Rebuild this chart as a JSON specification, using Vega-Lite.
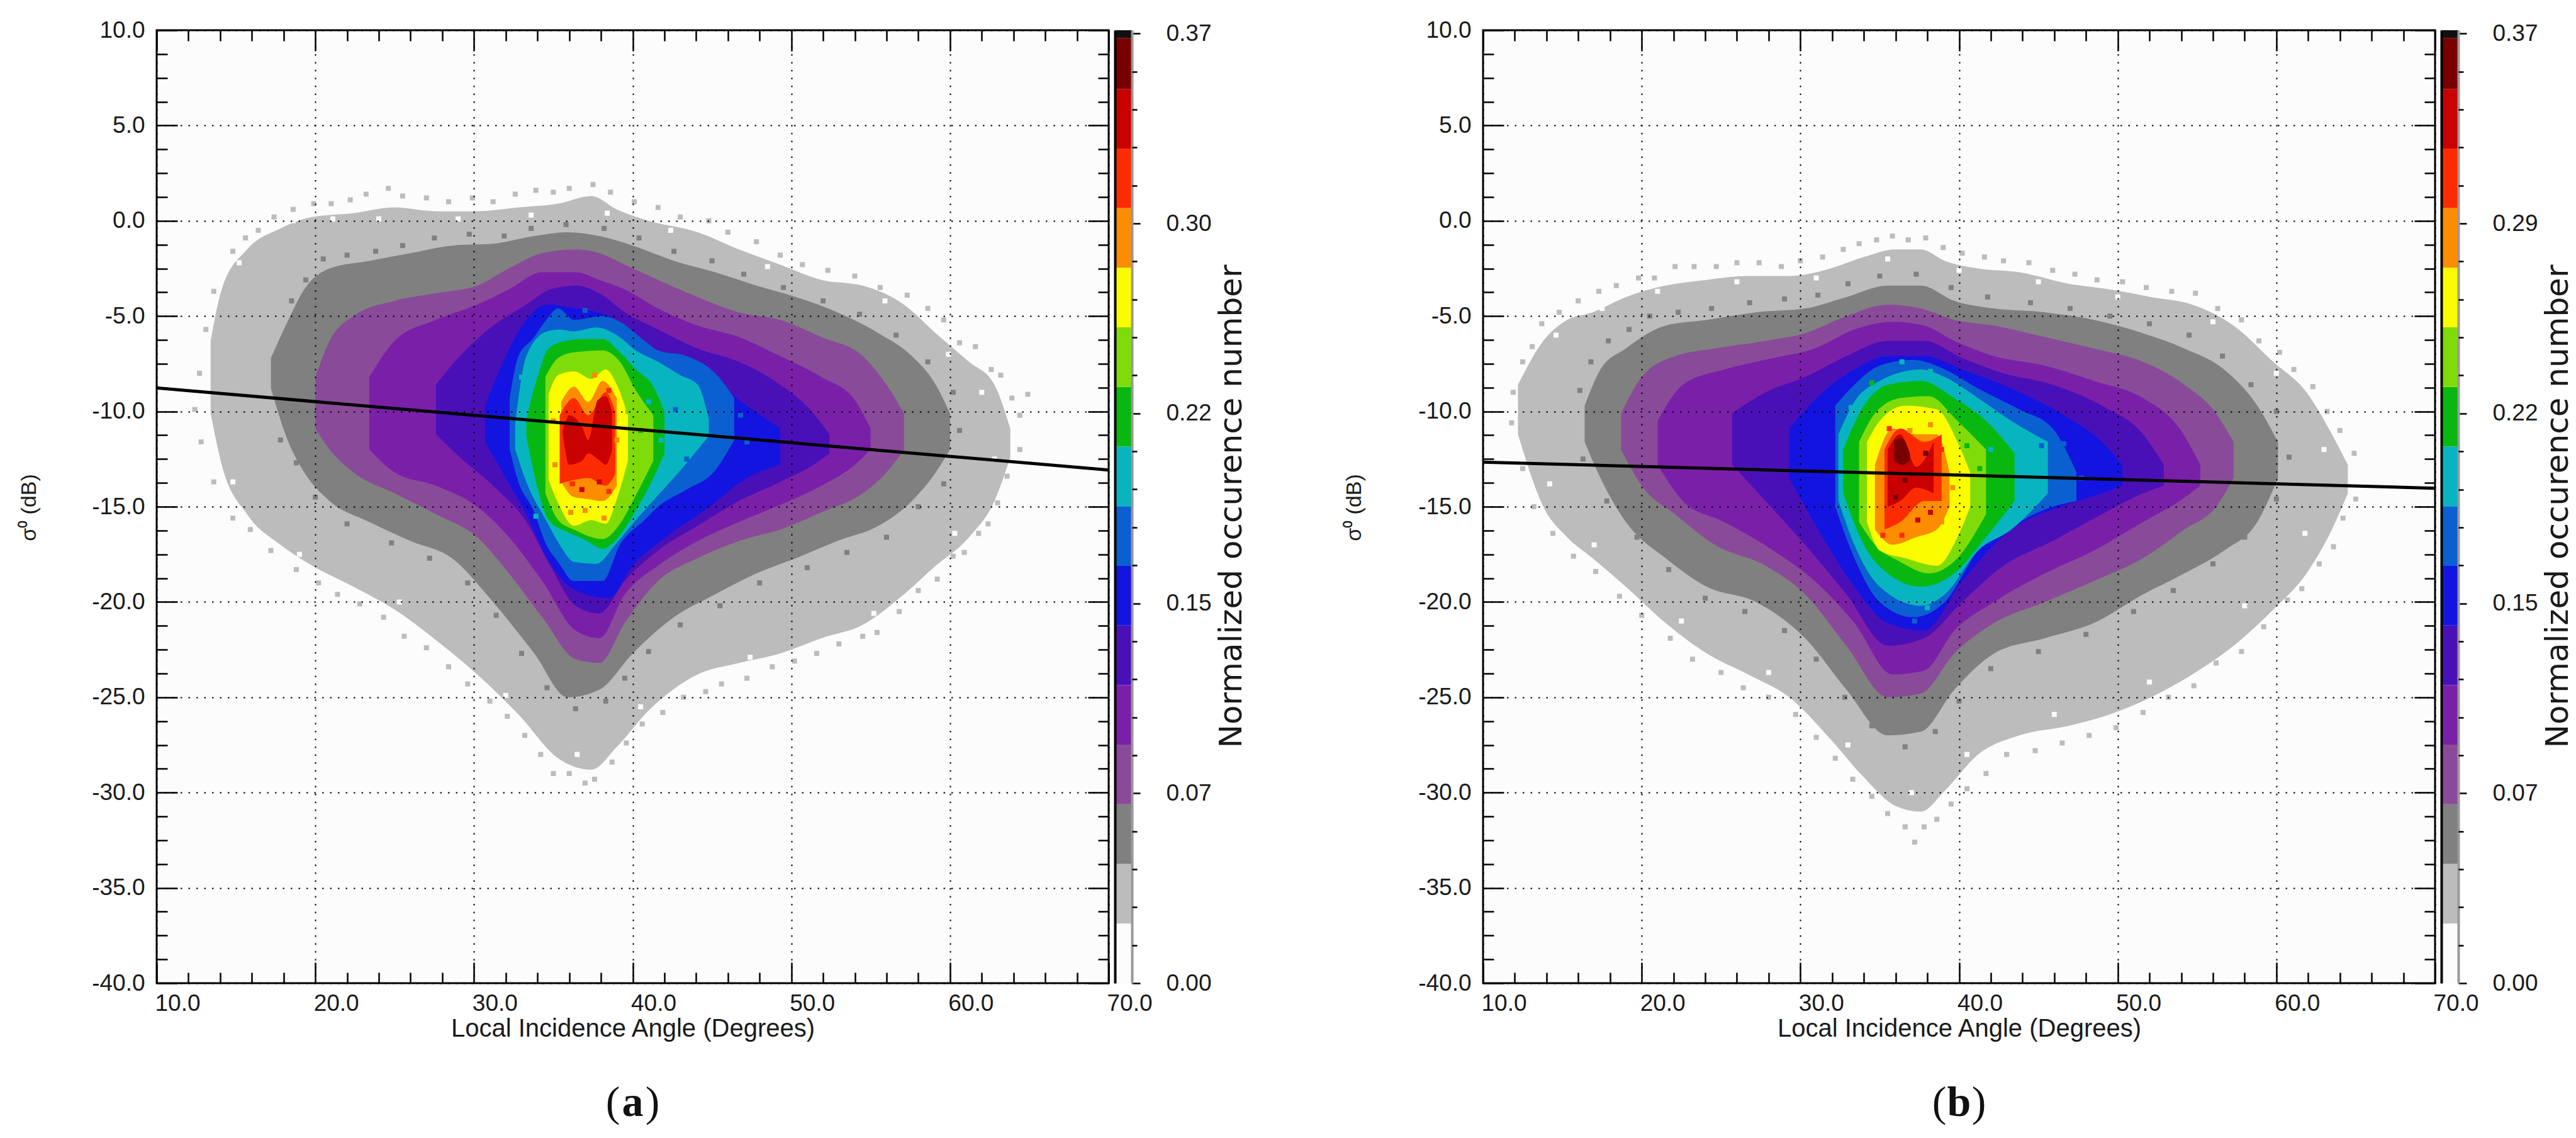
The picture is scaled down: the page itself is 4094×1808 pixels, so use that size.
{"$schema":"https://vega.github.io/schema/vega-lite/v6.json","autosize":{"type":"none"},"padding":{"left":249,"top":48,"right":3845,"bottom":246},"background":"white","spacing":10,"bounds":"flush",
"config":{"view":{"stroke":null},"axis":{"labelFont":"Liberation Sans","titleFont":"Liberation Sans","labelFontSize":37,"titleFontSize":40,"labelColor":"#1a1a1a","titleColor":"#1a1a1a","titleFontWeight":"normal","tickColor":"#000","tickWidth":2.5,"domain":false,"grid":false,"labelOverlap":false,"labelBound":false,"labelFlush":false}},
"datasets":{
"binsA":[{"level":0,"lo":0,"hi":0.02323},{"level":1,"lo":0.02323,"hi":0.04646},{"level":2,"lo":0.04646,"hi":0.06969},{"level":3,"lo":0.06969,"hi":0.09292},{"level":4,"lo":0.09292,"hi":0.11615},{"level":5,"lo":0.11615,"hi":0.13938},{"level":6,"lo":0.13938,"hi":0.16261},{"level":7,"lo":0.16261,"hi":0.18584},{"level":8,"lo":0.18584,"hi":0.20907},{"level":9,"lo":0.20907,"hi":0.2323},{"level":10,"lo":0.2323,"hi":0.25553},{"level":11,"lo":0.25553,"hi":0.27876},{"level":12,"lo":0.27876,"hi":0.30199},{"level":13,"lo":0.30199,"hi":0.32522},{"level":14,"lo":0.32522,"hi":0.34845},{"level":15,"lo":0.34845,"hi":0.3683},{"level":16,"lo":0.3683,"hi":0.3713}],
"binsB":[{"level":0,"lo":0,"hi":0.02298},{"level":1,"lo":0.02298,"hi":0.04596},{"level":2,"lo":0.04596,"hi":0.06894},{"level":3,"lo":0.06894,"hi":0.09192},{"level":4,"lo":0.09192,"hi":0.1149},{"level":5,"lo":0.1149,"hi":0.13788},{"level":6,"lo":0.13788,"hi":0.16086},{"level":7,"lo":0.16086,"hi":0.18384},{"level":8,"lo":0.18384,"hi":0.20682},{"level":9,"lo":0.20682,"hi":0.2298},{"level":10,"lo":0.2298,"hi":0.25278},{"level":11,"lo":0.25278,"hi":0.27576},{"level":12,"lo":0.27576,"hi":0.29874},{"level":13,"lo":0.29874,"hi":0.32172},{"level":14,"lo":0.32172,"hi":0.3447},{"level":15,"lo":0.3447,"hi":0.3643},{"level":16,"lo":0.3643,"hi":0.3673}],
"cellsA":[{"x":14.8,"y":-1.6,"level":1},{"x":15.6,"y":-0.9,"level":1},{"x":16.4,"y":-0.5,"level":1},{"x":17.4,"y":0.2,"level":1},{"x":18.6,"y":0.6,"level":1},{"x":19.9,"y":0.9,"level":1},{"x":21,"y":0.9,"level":1},{"x":22.2,"y":1.1,"level":1},{"x":23.2,"y":1.4,"level":1},{"x":24.6,"y":1.7,"level":1},{"x":25.5,"y":1.3,"level":1},{"x":27,"y":1.2,"level":1},{"x":28.4,"y":1,"level":1},{"x":29.9,"y":1.2,"level":1},{"x":31.2,"y":1,"level":1},{"x":32.6,"y":1.4,"level":1},{"x":33.9,"y":1.6,"level":1},{"x":35,"y":1.5,"level":1},{"x":36,"y":1.7,"level":1},{"x":37.5,"y":1.9,"level":1},{"x":38.6,"y":1.5,"level":1},{"x":40.1,"y":1,"level":1},{"x":41.6,"y":0.7,"level":1},{"x":43,"y":0.2,"level":1},{"x":44.8,"y":0,"level":1},{"x":46,"y":-0.6,"level":1},{"x":47.8,"y":-1.1,"level":1},{"x":49.3,"y":-1.8,"level":1},{"x":50.7,"y":-2.3,"level":1},{"x":52.3,"y":-2.6,"level":1},{"x":54,"y":-2.9,"level":1},{"x":55.6,"y":-3.5,"level":1},{"x":57.3,"y":-3.9,"level":1},{"x":58.6,"y":-4.6,"level":1},{"x":59.6,"y":-5.2,"level":1},{"x":60.6,"y":-6.4,"level":1},{"x":61.6,"y":-6.6,"level":1},{"x":62.6,"y":-7.8,"level":1},{"x":63.2,"y":-8.1,"level":1},{"x":63.9,"y":-9.3,"level":1},{"x":64.9,"y":-9.1,"level":1},{"x":64.4,"y":-10.2,"level":1},{"x":64.4,"y":-12,"level":1},{"x":63.6,"y":-13.4,"level":1},{"x":63,"y":-14.8,"level":1},{"x":62.4,"y":-15.9,"level":1},{"x":61.8,"y":-16.4,"level":1},{"x":60.9,"y":-17.4,"level":1},{"x":60.2,"y":-17.6,"level":1},{"x":59.2,"y":-18.8,"level":1},{"x":58,"y":-19.4,"level":1},{"x":56.8,"y":-20.5,"level":1},{"x":55.4,"y":-21.6,"level":1},{"x":54.5,"y":-21.8,"level":1},{"x":53,"y":-22.2,"level":1},{"x":51.6,"y":-22.7,"level":1},{"x":50.2,"y":-23.1,"level":1},{"x":48.8,"y":-23.4,"level":1},{"x":47.2,"y":-24,"level":1},{"x":45.6,"y":-24.3,"level":1},{"x":44.6,"y":-24.7,"level":1},{"x":43.2,"y":-25,"level":1},{"x":41.9,"y":-25.8,"level":1},{"x":40.6,"y":-26.4,"level":1},{"x":39.6,"y":-27.4,"level":1},{"x":38.7,"y":-28.4,"level":1},{"x":37.6,"y":-29.3,"level":1},{"x":37,"y":-29.5,"level":1},{"x":36,"y":-29,"level":1},{"x":35,"y":-29,"level":1},{"x":34.2,"y":-28,"level":1},{"x":33.2,"y":-27,"level":1},{"x":32.1,"y":-26,"level":1},{"x":31,"y":-25.2,"level":1},{"x":29.6,"y":-24.3,"level":1},{"x":28.4,"y":-23.4,"level":1},{"x":27,"y":-22.4,"level":1},{"x":25.6,"y":-21.8,"level":1},{"x":24.3,"y":-20.8,"level":1},{"x":22.8,"y":-20.1,"level":1},{"x":21.4,"y":-19.6,"level":1},{"x":20.2,"y":-19,"level":1},{"x":18.8,"y":-18.3,"level":1},{"x":17.2,"y":-17.3,"level":1},{"x":15.9,"y":-16.2,"level":1},{"x":14.8,"y":-15.6,"level":1},{"x":13.6,"y":-13.7,"level":1},{"x":12.8,"y":-11.6,"level":1},{"x":12.4,"y":-9.9,"level":1},{"x":12.7,"y":-8,"level":1},{"x":13.1,"y":-5.7,"level":1},{"x":13.6,"y":-3.7,"level":1},
{"x":15.2,"y":-2.2,"level":0},{"x":18.6,"y":0,"level":0},{"x":21.1,"y":0.1,"level":0},{"x":24,"y":0.1,"level":0},{"x":29,"y":0.1,"level":0},{"x":33.6,"y":0.3,"level":0},{"x":38.4,"y":0.4,"level":0},{"x":42.4,"y":-0.5,"level":0},{"x":48.5,"y":-2.4,"level":0},{"x":55.9,"y":-4.2,"level":0},{"x":59.9,"y":-7,"level":0},{"x":62,"y":-9,"level":0},{"x":62.8,"y":-12.5,"level":0},{"x":60.3,"y":-16.4,"level":0},{"x":55.2,"y":-20.6,"level":0},{"x":47.4,"y":-22.9,"level":0},{"x":40.5,"y":-25.5,"level":0},{"x":36.5,"y":-28,"level":0},{"x":32,"y":-24.9,"level":0},{"x":25.3,"y":-20,"level":0},{"x":19,"y":-17.5,"level":0},{"x":14.8,"y":-13.7,"level":0},
{"x":18.5,"y":-4.2,"level":2},{"x":19.4,"y":-3.1,"level":2},{"x":20.5,"y":-2,"level":2},{"x":22,"y":-1.8,"level":2},{"x":23.8,"y":-1.6,"level":2},{"x":25.5,"y":-1.3,"level":2},{"x":27.5,"y":-0.9,"level":2},{"x":29.7,"y":-0.7,"level":2},{"x":31.9,"y":-0.8,"level":2},{"x":33.6,"y":-0.4,"level":2},{"x":35.8,"y":-0.2,"level":2},{"x":38.2,"y":-0.4,"level":2},{"x":40.4,"y":-0.9,"level":2},{"x":42.6,"y":-1.6,"level":2},{"x":45,"y":-2.1,"level":2},{"x":47,"y":-2.8,"level":2},{"x":49.5,"y":-3.5,"level":2},{"x":52,"y":-4.2,"level":2},{"x":54.3,"y":-4.9,"level":2},{"x":56.6,"y":-6,"level":2},{"x":58.6,"y":-7.4,"level":2},{"x":60.2,"y":-9,"level":2},{"x":60.6,"y":-11,"level":2},{"x":59.6,"y":-13.8,"level":2},{"x":58,"y":-15,"level":2},{"x":56,"y":-16.6,"level":2},{"x":53.5,"y":-17.4,"level":2},{"x":51,"y":-18.2,"level":2},{"x":48,"y":-19,"level":2},{"x":45.5,"y":-20.2,"level":2},{"x":43,"y":-21.2,"level":2},{"x":41,"y":-22.6,"level":2},{"x":39.5,"y":-24,"level":2},{"x":38.3,"y":-25.2,"level":2},{"x":36.4,"y":-25.6,"level":2},{"x":34.6,"y":-24.5,"level":2},{"x":33,"y":-22.7,"level":2},{"x":31.4,"y":-20.7,"level":2},{"x":29.6,"y":-19,"level":2},{"x":27.2,"y":-17.7,"level":2},{"x":24.8,"y":-16.9,"level":2},{"x":22,"y":-15.9,"level":2},{"x":20,"y":-14.5,"level":2},{"x":18.8,"y":-12.7,"level":2},{"x":17.8,"y":-11.5,"level":2},
{"x":35.8,"y":-9.9,"level":13},{"x":36.7,"y":-9.3,"level":12},{"x":37.6,"y":-8.1,"level":12},{"x":38.5,"y":-8.9,"level":13},{"x":39,"y":-11.5,"level":12},{"x":39.3,"y":-12.5,"level":11},{"x":35,"y":-10.5,"level":12},{"x":35.1,"y":-12.8,"level":12},{"x":36.2,"y":-13.8,"level":13},{"x":36.8,"y":-14.1,"level":14},{"x":37.9,"y":-13.7,"level":14},{"x":38.5,"y":-14.2,"level":13},{"x":37,"y":-15.2,"level":12},{"x":36.1,"y":-15.3,"level":12},{"x":38.2,"y":-15.6,"level":12},{"x":39.7,"y":-10,"level":10},{"x":40.5,"y":-11,"level":9},{"x":41,"y":-9.5,"level":8},{"x":41.8,"y":-11.5,"level":8},{"x":42.7,"y":-9.9,"level":7},{"x":43.4,"y":-12.5,"level":7},{"x":43.9,"y":-10.4,"level":8},{"x":44.5,"y":-13,"level":7},{"x":45.1,"y":-10.3,"level":7},{"x":46,"y":-12.5,"level":6},{"x":46.8,"y":-10.2,"level":7},{"x":47.2,"y":-11.6,"level":7},{"x":33,"y":-8.2,"level":8},{"x":32.5,"y":-9.5,"level":7},{"x":33.9,"y":-15.5,"level":8},{"x":34.3,"y":-6.5,"level":8},{"x":35.6,"y":-5,"level":7},{"x":37,"y":-4.7,"level":7}],
"cellsB":[{"x":11.9,"y":-9,"level":1},{"x":12.5,"y":-7.4,"level":1},{"x":13.1,"y":-6.6,"level":1},{"x":13.7,"y":-5.4,"level":1},{"x":14.8,"y":-4.8,"level":1},{"x":16,"y":-4.2,"level":1},{"x":17.3,"y":-3.7,"level":1},{"x":18.4,"y":-3.4,"level":1},{"x":19.8,"y":-3,"level":1},{"x":20.8,"y":-3,"level":1},{"x":22.1,"y":-2.4,"level":1},{"x":23.3,"y":-2.4,"level":1},{"x":24.7,"y":-2.4,"level":1},{"x":26,"y":-2.2,"level":1},{"x":27.4,"y":-2.2,"level":1},{"x":28.8,"y":-2.4,"level":1},{"x":30,"y":-2.1,"level":1},{"x":31.4,"y":-1.9,"level":1},{"x":32.7,"y":-1.5,"level":1},{"x":33.7,"y":-1.2,"level":1},{"x":34.8,"y":-1,"level":1},{"x":35.8,"y":-0.8,"level":1},{"x":36.8,"y":-1,"level":1},{"x":37.9,"y":-0.9,"level":1},{"x":39,"y":-1.4,"level":1},{"x":40.2,"y":-1.7,"level":1},{"x":41.6,"y":-1.9,"level":1},{"x":42.8,"y":-2.1,"level":1},{"x":44.4,"y":-2.2,"level":1},{"x":45.9,"y":-2.6,"level":1},{"x":47.3,"y":-2.8,"level":1},{"x":48.7,"y":-3.1,"level":1},{"x":50.3,"y":-3.2,"level":1},{"x":51.8,"y":-3.5,"level":1},{"x":53.4,"y":-3.7,"level":1},{"x":54.9,"y":-3.8,"level":1},{"x":56.3,"y":-4.6,"level":1},{"x":57.8,"y":-5.2,"level":1},{"x":58.9,"y":-6.3,"level":1},{"x":60.2,"y":-6.9,"level":1},{"x":61.1,"y":-7.8,"level":1},{"x":62.3,"y":-8.7,"level":1},{"x":63.2,"y":-10,"level":1},{"x":64,"y":-11,"level":1},{"x":64.9,"y":-12.2,"level":1},{"x":65,"y":-14.6,"level":1},{"x":64.2,"y":-15.6,"level":1},{"x":63.6,"y":-17.1,"level":1},{"x":62.7,"y":-18,"level":1},{"x":61.6,"y":-19.3,"level":1},{"x":60.7,"y":-19.9,"level":1},{"x":59.2,"y":-21.3,"level":1},{"x":57.8,"y":-22.6,"level":1},{"x":56.2,"y":-23.2,"level":1},{"x":54.8,"y":-24.4,"level":1},{"x":53.2,"y":-25,"level":1},{"x":51.6,"y":-25.8,"level":1},{"x":49.9,"y":-26.6,"level":1},{"x":48.2,"y":-27,"level":1},{"x":46.5,"y":-27.4,"level":1},{"x":44.8,"y":-27.8,"level":1},{"x":43,"y":-28,"level":1},{"x":41.7,"y":-29,"level":1},{"x":40.5,"y":-29.8,"level":1},{"x":39.5,"y":-30.6,"level":1},{"x":38.6,"y":-31.4,"level":1},{"x":37.8,"y":-31.8,"level":1},{"x":37.2,"y":-32.6,"level":1},{"x":36.6,"y":-31.8,"level":1},{"x":35.5,"y":-31.1,"level":1},{"x":34.5,"y":-30.2,"level":1},{"x":33.3,"y":-29.3,"level":1},{"x":32.2,"y":-28.2,"level":1},{"x":31,"y":-27.1,"level":1},{"x":29.7,"y":-25.9,"level":1},{"x":28,"y":-25,"level":1},{"x":26.4,"y":-24.5,"level":1},{"x":25,"y":-23.7,"level":1},{"x":23.2,"y":-23,"level":1},{"x":21.8,"y":-21.9,"level":1},{"x":20,"y":-20.7,"level":1},{"x":18.6,"y":-19.7,"level":1},{"x":17.1,"y":-18.4,"level":1},{"x":15.7,"y":-17.6,"level":1},{"x":14.4,"y":-16.4,"level":1},{"x":13.2,"y":-15,"level":1},{"x":12.5,"y":-13,"level":1},{"x":11.8,"y":-10.6,"level":1},
{"x":14.6,"y":-6,"level":0},{"x":17.5,"y":-4.6,"level":0},{"x":21,"y":-3.7,"level":0},{"x":26,"y":-3.2,"level":0},{"x":31,"y":-3,"level":0},{"x":35.5,"y":-2,"level":0},{"x":40,"y":-2.6,"level":0},{"x":45,"y":-3.2,"level":0},{"x":50,"y":-4,"level":0},{"x":56,"y":-5.3,"level":0},{"x":60,"y":-8,"level":0},{"x":63,"y":-12,"level":0},{"x":61.8,"y":-16.4,"level":0},{"x":58,"y":-20.2,"level":0},{"x":52,"y":-24.2,"level":0},{"x":46,"y":-25.9,"level":0},{"x":40.5,"y":-28,"level":0},{"x":37,"y":-30,"level":0},{"x":33,"y":-27.5,"level":0},{"x":28,"y":-23.7,"level":0},{"x":22.5,"y":-21,"level":0},{"x":17,"y":-17,"level":0},{"x":14.2,"y":-13.8,"level":0},
{"x":16.1,"y":-8.9,"level":2},{"x":16.8,"y":-7.4,"level":2},{"x":17.9,"y":-6.3,"level":2},{"x":19.2,"y":-5.7,"level":2},{"x":20.5,"y":-5,"level":2},{"x":22.3,"y":-4.8,"level":2},{"x":24.4,"y":-4.6,"level":2},{"x":26.8,"y":-4.3,"level":2},{"x":29,"y":-4.1,"level":2},{"x":31.1,"y":-3.9,"level":2},{"x":33,"y":-3.3,"level":2},{"x":35,"y":-2.9,"level":2},{"x":37.3,"y":-2.8,"level":2},{"x":39.5,"y":-3.5,"level":2},{"x":41.8,"y":-4,"level":2},{"x":44.5,"y":-4.3,"level":2},{"x":47,"y":-4.6,"level":2},{"x":49.5,"y":-5,"level":2},{"x":52,"y":-5.4,"level":2},{"x":54.5,"y":-6,"level":2},{"x":56.6,"y":-7.1,"level":2},{"x":58.4,"y":-8.6,"level":2},{"x":60,"y":-10,"level":2},{"x":60.8,"y":-12.4,"level":2},{"x":60,"y":-14.6,"level":2},{"x":58,"y":-16.6,"level":2},{"x":56,"y":-18,"level":2},{"x":53.5,"y":-19.4,"level":2},{"x":51,"y":-20.5,"level":2},{"x":48,"y":-21.7,"level":2},{"x":45,"y":-22.6,"level":2},{"x":42,"y":-23.5,"level":2},{"x":40,"y":-25.2,"level":2},{"x":38.5,"y":-26.8,"level":2},{"x":36.6,"y":-27.6,"level":2},{"x":34.5,"y":-26.5,"level":2},{"x":32.8,"y":-25,"level":2},{"x":31,"y":-23,"level":2},{"x":29,"y":-21.5,"level":2},{"x":26.5,"y":-20.5,"level":2},{"x":24,"y":-19.8,"level":2},{"x":21.7,"y":-18.3,"level":2},{"x":19.7,"y":-16.6,"level":2},{"x":17.8,"y":-14.7,"level":2},{"x":16.3,"y":-12.5,"level":2},
{"x":35.6,"y":-10.9,"level":13},{"x":36.9,"y":-11,"level":12},{"x":38.2,"y":-10.7,"level":12},{"x":38.9,"y":-12,"level":13},{"x":39.6,"y":-14,"level":12},{"x":35,"y":-13,"level":12},{"x":34.9,"y":-15,"level":12},{"x":35.2,"y":-16.5,"level":13},{"x":36.4,"y":-16.5,"level":13},{"x":37.4,"y":-15.7,"level":14},{"x":38.2,"y":-15.3,"level":14},{"x":38.9,"y":-15.8,"level":12},{"x":36.6,"y":-13.6,"level":15},{"x":37.9,"y":-12.2,"level":15},{"x":36,"y":-14.5,"level":15},{"x":40.5,"y":-11.8,"level":9},{"x":41.3,"y":-13,"level":9},{"x":42,"y":-12,"level":8},{"x":42.7,"y":-14.4,"level":9},{"x":43.5,"y":-11.5,"level":8},{"x":44,"y":-13,"level":8},{"x":44.8,"y":-14.7,"level":8},{"x":45.2,"y":-11.8,"level":7},{"x":46.1,"y":-13.3,"level":7},{"x":46.6,"y":-11.7,"level":7},{"x":47.7,"y":-13.5,"level":7},{"x":48.5,"y":-12.7,"level":6},{"x":33.5,"y":-16.8,"level":8},{"x":33.2,"y":-9.8,"level":8},{"x":34.5,"y":-8.5,"level":9},{"x":36.4,"y":-7.4,"level":8},{"x":38.2,"y":-7.9,"level":8},{"x":35.5,"y":-19,"level":8},{"x":38,"y":-20.3,"level":8},{"x":37.2,"y":-21,"level":7}],
"a":[
{"level":1,"x":13.4,"top":-6.3,"bot":-10.1},{"level":1,"x":14.1,"top":-3.6,"bot":-12.8},{"level":1,"x":15.7,"top":-1.5,"bot":-15.4},{"level":1,"x":17.8,"top":-0.4,"bot":-17},{"level":1,"x":19.8,"top":0.2,"bot":-18.1},{"level":1,"x":22.4,"top":0.4,"bot":-19.2},{"level":1,"x":25,"top":0.7,"bot":-20.4},{"level":1,"x":27.6,"top":0.5,"bot":-22},{"level":1,"x":30.2,"top":0.5,"bot":-23.8},{"level":1,"x":32.8,"top":0.7,"bot":-25.9},{"level":1,"x":35.3,"top":0.9,"bot":-28.2},{"level":1,"x":37.4,"top":1.3,"bot":-28.8},{"level":1,"x":39,"top":0.6,"bot":-27.6},{"level":1,"x":41,"top":0,"bot":-25.7},{"level":1,"x":44.1,"top":-0.6,"bot":-23.8},{"level":1,"x":46.7,"top":-1.5,"bot":-23.2},{"level":1,"x":49.3,"top":-2.3,"bot":-22.7},{"level":1,"x":51.9,"top":-3.1,"bot":-21.9},{"level":1,"x":54.5,"top":-3.4,"bot":-21.2},{"level":1,"x":57.1,"top":-4.4,"bot":-19.6},{"level":1,"x":59.1,"top":-5.9,"bot":-18.1},{"level":1,"x":61.2,"top":-7.4,"bot":-16.6},{"level":1,"x":62.8,"top":-8.6,"bot":-14.7},{"level":1,"x":63.8,"top":-10.9,"bot":-12.4},
{"level":2,"x":17.2,"top":-7.2,"bot":-8.8},{"level":2,"x":18.3,"top":-5.2,"bot":-11.6},{"level":2,"x":19.3,"top":-3.6,"bot":-13.2},{"level":2,"x":20.9,"top":-2.5,"bot":-14.7},{"level":2,"x":23.4,"top":-2.1,"bot":-15.8},{"level":2,"x":26,"top":-1.7,"bot":-16.8},{"level":2,"x":28.6,"top":-1.3,"bot":-17.7},{"level":2,"x":31.2,"top":-1.2,"bot":-20},{"level":2,"x":33.8,"top":-0.8,"bot":-22.7},{"level":2,"x":35.9,"top":-0.6,"bot":-25},{"level":2,"x":37.9,"top":-0.8,"bot":-24.6},{"level":2,"x":40,"top":-1.3,"bot":-22.7},{"level":2,"x":42.6,"top":-2.1,"bot":-20.8},{"level":2,"x":45.2,"top":-2.7,"bot":-19.6},{"level":2,"x":47.8,"top":-3.4,"bot":-18.5},{"level":2,"x":50.3,"top":-4,"bot":-17.7},{"level":2,"x":52.9,"top":-4.8,"bot":-16.8},{"level":2,"x":55.5,"top":-5.9,"bot":-16},{"level":2,"x":57.6,"top":-7.1,"bot":-14.7},{"level":2,"x":59.1,"top":-8.6,"bot":-13.2},{"level":2,"x":60,"top":-10.1,"bot":-12},
{"level":3,"x":20,"top":-8.2,"bot":-10.9},{"level":3,"x":20.9,"top":-6.3,"bot":-12},{"level":3,"x":22.4,"top":-5,"bot":-13.2},{"level":3,"x":25,"top":-4.2,"bot":-14.3},{"level":3,"x":27.6,"top":-3.8,"bot":-15.4},{"level":3,"x":30.2,"top":-3.4,"bot":-16.6},{"level":3,"x":32.2,"top":-2.5,"bot":-18.5},{"level":3,"x":34.3,"top":-1.7,"bot":-20.8},{"level":3,"x":36.4,"top":-1.5,"bot":-23},{"level":3,"x":37.9,"top":-1.7,"bot":-23.2},{"level":3,"x":39.5,"top":-2.3,"bot":-21.1},{"level":3,"x":41.6,"top":-3.1,"bot":-18.9},{"level":3,"x":44.1,"top":-4,"bot":-17.7},{"level":3,"x":46.7,"top":-4.8,"bot":-16.8},{"level":3,"x":49.3,"top":-5.2,"bot":-16.2},{"level":3,"x":51.9,"top":-6.1,"bot":-15.3},{"level":3,"x":54.5,"top":-7.1,"bot":-14.3},{"level":3,"x":56,"top":-8.6,"bot":-13.2},{"level":3,"x":57.1,"top":-10.1,"bot":-12},
{"level":4,"x":23.4,"top":-8.2,"bot":-12},{"level":4,"x":25,"top":-6.3,"bot":-13.2},{"level":4,"x":27.6,"top":-5.2,"bot":-13.9},{"level":4,"x":30.2,"top":-4.4,"bot":-15},{"level":4,"x":32.2,"top":-3.6,"bot":-16.6},{"level":4,"x":34.3,"top":-2.7,"bot":-18.9},{"level":4,"x":36.4,"top":-2.7,"bot":-21.5},{"level":4,"x":37.9,"top":-3.1,"bot":-21.9},{"level":4,"x":39.5,"top":-3.6,"bot":-19.6},{"level":4,"x":41.6,"top":-4.6,"bot":-18.1},{"level":4,"x":44.1,"top":-5.5,"bot":-16.8},{"level":4,"x":46.7,"top":-6.1,"bot":-15.8},{"level":4,"x":49.3,"top":-7.1,"bot":-14.9},{"level":4,"x":51.9,"top":-8.2,"bot":-13.9},{"level":4,"x":54,"top":-9.4,"bot":-12.8},{"level":4,"x":55,"top":-10.9,"bot":-12},
{"level":5,"x":27.6,"top":-8.6,"bot":-11.2},{"level":5,"x":29.1,"top":-7.1,"bot":-12.4},{"level":5,"x":31.2,"top":-5.5,"bot":-13.9},{"level":5,"x":33.3,"top":-4.4,"bot":-15.8},{"level":5,"x":34.8,"top":-3.6,"bot":-18.1},{"level":5,"x":36.4,"top":-3.4,"bot":-20.2},{"level":5,"x":37.9,"top":-3.8,"bot":-20.6},{"level":5,"x":39.5,"top":-4.8,"bot":-18.9},{"level":5,"x":41.6,"top":-5.7,"bot":-17.3},{"level":5,"x":44.1,"top":-6.7,"bot":-16},{"level":5,"x":46.7,"top":-7.4,"bot":-14.7},{"level":5,"x":49.3,"top":-8.6,"bot":-13.7},{"level":5,"x":51.4,"top":-10.1,"bot":-12.8},{"level":5,"x":52.4,"top":-11.2,"bot":-12.2},
{"level":6,"x":30.7,"top":-9.7,"bot":-11.6},{"level":6,"x":32,"top":-7.1,"bot":-13.5},{"level":6,"x":33.3,"top":-5.2,"bot":-15.4},{"level":6,"x":34.6,"top":-4.4,"bot":-17.7},{"level":6,"x":36.4,"top":-4.6,"bot":-19.4},{"level":6,"x":38.5,"top":-5,"bot":-19.8},{"level":6,"x":40,"top":-6.1,"bot":-18.1},{"level":6,"x":42.1,"top":-7.1,"bot":-16.6},{"level":6,"x":44.7,"top":-8.2,"bot":-15.1},{"level":6,"x":47.2,"top":-9.7,"bot":-13.5},{"level":6,"x":49.3,"top":-10.9,"bot":-12.8},
{"level":7,"x":32.25,"top":-9.3,"bot":-12},{"level":7,"x":32.8,"top":-7.1,"bot":-13.7},{"level":7,"x":33.7,"top":-6.2,"bot":-15.1},{"level":7,"x":34.56,"top":-5.2,"bot":-17},{"level":7,"x":35.3,"top":-4.6,"bot":-17.9},{"level":7,"x":36.3,"top":-5.2,"bot":-18.9},{"level":7,"x":38.1,"top":-5,"bot":-18.9},{"level":7,"x":39.2,"top":-5.3,"bot":-17},{"level":7,"x":40.75,"top":-6.3,"bot":-15.7},{"level":7,"x":41.6,"top":-6.8,"bot":-15},{"level":7,"x":43.4,"top":-7.1,"bot":-14.1},{"level":7,"x":45.2,"top":-8,"bot":-13.1},{"level":7,"x":46.4,"top":-9.3,"bot":-11.5},
{"level":8,"x":32.6,"top":-10.6,"bot":-12},{"level":8,"x":33.3,"top":-7.1,"bot":-13.7},{"level":8,"x":34.6,"top":-5.8,"bot":-15.8},{"level":8,"x":35.4,"top":-5.7,"bot":-17},{"level":8,"x":36.3,"top":-5.8,"bot":-17.9},{"level":8,"x":37.7,"top":-5.6,"bot":-18},{"level":8,"x":39,"top":-6,"bot":-16.9},{"level":8,"x":40.2,"top":-6.8,"bot":-15.7},{"level":8,"x":41.6,"top":-7.4,"bot":-14.4},{"level":8,"x":43,"top":-8.1,"bot":-13.1},{"level":8,"x":44.1,"top":-8.6,"bot":-12},{"level":8,"x":44.8,"top":-10.4,"bot":-11.3},
{"level":9,"x":33.3,"top":-10.4,"bot":-11.3},{"level":9,"x":34,"top":-8.2,"bot":-14},{"level":9,"x":34.7,"top":-6.7,"bot":-15.7},{"level":9,"x":35.8,"top":-6.3,"bot":-16.3},{"level":9,"x":36.9,"top":-6.2,"bot":-16.7},{"level":9,"x":38.1,"top":-6.2,"bot":-17.2},{"level":9,"x":39.2,"top":-6.9,"bot":-16.5},{"level":9,"x":40.2,"top":-7.8,"bot":-15.2},{"level":9,"x":41.3,"top":-8.7,"bot":-13.5},{"level":9,"x":42,"top":-10,"bot":-12.2},
{"level":10,"x":34.5,"top":-8.2,"bot":-14.3},{"level":10,"x":35.3,"top":-7.2,"bot":-15.7},{"level":10,"x":36.3,"top":-6.9,"bot":-16.2},{"level":10,"x":38.1,"top":-6.8,"bot":-16.7},{"level":10,"x":39.2,"top":-7.4,"bot":-15.9},{"level":10,"x":40.2,"top":-8.9,"bot":-14.4},{"level":10,"x":41.3,"top":-10.2,"bot":-12.6},
{"level":11,"x":34.7,"top":-9.1,"bot":-13.6},{"level":11,"x":35.3,"top":-8.1,"bot":-14.8},{"level":11,"x":36.3,"top":-7.9,"bot":-16},{"level":11,"x":37.4,"top":-8.3,"bot":-15.7},{"level":11,"x":38.3,"top":-7.8,"bot":-15.9},{"level":11,"x":39,"top":-8.6,"bot":-14.6},{"level":11,"x":39.7,"top":-10.2,"bot":-12.6},
{"level":12,"x":35.5,"top":-9.5,"bot":-13.7},{"level":12,"x":36.3,"top":-8.7,"bot":-14.5},{"level":12,"x":37.2,"top":-9.5,"bot":-14.6},{"level":12,"x":38.1,"top":-8.4,"bot":-14.7},{"level":12,"x":39,"top":-9.3,"bot":-13.9},
{"level":13,"x":35.4,"top":-10.2,"bot":-13.8},{"level":13,"x":36.3,"top":-9.3,"bot":-13.6},{"level":13,"x":37.2,"top":-10.2,"bot":-13.5},{"level":13,"x":38.3,"top":-9,"bot":-13.9},{"level":13,"x":38.9,"top":-10,"bot":-13.3},
{"level":14,"x":35.6,"top":-11,"bot":-11.2},{"level":14,"x":36,"top":-10.2,"bot":-12.8},{"level":14,"x":36.8,"top":-10.8,"bot":-12.6},{"level":14,"x":37.2,"top":-11.5,"bot":-12.2},{"level":14,"x":37.8,"top":-9.4,"bot":-12.5},{"level":14,"x":38.3,"top":-9.2,"bot":-12.8},{"level":14,"x":38.7,"top":-10,"bot":-12}
],
"b":[
{"level":1,"x":12.2,"top":-8.6,"bot":-11.2},{"level":1,"x":13.8,"top":-6.3,"bot":-15},{"level":1,"x":15.3,"top":-5.2,"bot":-16.6},{"level":1,"x":16.9,"top":-4.8,"bot":-17.7},{"level":1,"x":19,"top":-4,"bot":-19.2},{"level":1,"x":21.5,"top":-3.4,"bot":-21.1},{"level":1,"x":24.1,"top":-3.1,"bot":-22.7},{"level":1,"x":26.7,"top":-2.9,"bot":-23.8},{"level":1,"x":29.3,"top":-2.9,"bot":-25},{"level":1,"x":31.9,"top":-2.5,"bot":-27.2},{"level":1,"x":34,"top":-1.9,"bot":-29.2},{"level":1,"x":36,"top":-1.5,"bot":-30.7},{"level":1,"x":37.6,"top":-1.5,"bot":-31},{"level":1,"x":39.1,"top":-2.1,"bot":-29.9},{"level":1,"x":41.2,"top":-2.5,"bot":-28},{"level":1,"x":43.8,"top":-2.7,"bot":-27},{"level":1,"x":46.9,"top":-3.3,"bot":-26.5},{"level":1,"x":49.5,"top":-3.6,"bot":-25.9},{"level":1,"x":52.1,"top":-4,"bot":-25},{"level":1,"x":54.7,"top":-4.4,"bot":-23.8},{"level":1,"x":57.3,"top":-5.5,"bot":-22.3},{"level":1,"x":59.8,"top":-7.4,"bot":-20.4},{"level":1,"x":61.9,"top":-9,"bot":-18.5},{"level":1,"x":63.5,"top":-11.2,"bot":-16.2},{"level":1,"x":64.5,"top":-12.8,"bot":-14.3},
{"level":2,"x":16.4,"top":-9.7,"bot":-11.6},{"level":2,"x":17.4,"top":-7.8,"bot":-13.5},{"level":2,"x":19,"top":-6.7,"bot":-15.8},{"level":2,"x":21.5,"top":-5.5,"bot":-17.7},{"level":2,"x":24.1,"top":-5.2,"bot":-19.2},{"level":2,"x":27.2,"top":-4.8,"bot":-20},{"level":2,"x":30.3,"top":-4.6,"bot":-21.9},{"level":2,"x":32.9,"top":-4,"bot":-24.6},{"level":2,"x":35.5,"top":-3.4,"bot":-27},{"level":2,"x":37.6,"top":-3.4,"bot":-26.8},{"level":2,"x":39.7,"top":-4.2,"bot":-24.6},{"level":2,"x":42.2,"top":-4.6,"bot":-22.7},{"level":2,"x":45.4,"top":-4.8,"bot":-21.9},{"level":2,"x":48.5,"top":-5.2,"bot":-21.1},{"level":2,"x":51.6,"top":-5.9,"bot":-19.6},{"level":2,"x":54.2,"top":-6.7,"bot":-18.5},{"level":2,"x":56.7,"top":-7.8,"bot":-17.3},{"level":2,"x":58.8,"top":-9.7,"bot":-15.8},{"level":2,"x":60.1,"top":-11.6,"bot":-13.5},
{"level":3,"x":18.7,"top":-10.1,"bot":-12},{"level":3,"x":20,"top":-8.2,"bot":-13.9},{"level":3,"x":22.1,"top":-7.1,"bot":-15.4},{"level":3,"x":24.6,"top":-6.7,"bot":-17},{"level":3,"x":27.8,"top":-6.3,"bot":-18.1},{"level":3,"x":30.3,"top":-5.9,"bot":-19.6},{"level":3,"x":32.9,"top":-5,"bot":-22.3},{"level":3,"x":35.5,"top":-4.4,"bot":-25},{"level":3,"x":37.6,"top":-4.6,"bot":-24.8},{"level":3,"x":39.7,"top":-5.2,"bot":-22.7},{"level":3,"x":42.2,"top":-5.5,"bot":-21.1},{"level":3,"x":45.4,"top":-6.1,"bot":-20},{"level":3,"x":48.5,"top":-6.7,"bot":-18.9},{"level":3,"x":51.6,"top":-7.4,"bot":-17.7},{"level":3,"x":54.2,"top":-8.6,"bot":-16.2},{"level":3,"x":56.2,"top":-10.1,"bot":-15},{"level":3,"x":57.3,"top":-11.6,"bot":-13.5},
{"level":4,"x":21,"top":-10.5,"bot":-12.8},{"level":4,"x":22.6,"top":-8.6,"bot":-14.7},{"level":4,"x":25.2,"top":-7.8,"bot":-15.8},{"level":4,"x":28.3,"top":-7.2,"bot":-17.3},{"level":4,"x":30.9,"top":-6.7,"bot":-18.9},{"level":4,"x":33.4,"top":-5.7,"bot":-21.1},{"level":4,"x":35.8,"top":-5.3,"bot":-23.8},{"level":4,"x":37.8,"top":-5.5,"bot":-23.6},{"level":4,"x":39.7,"top":-6.3,"bot":-21.5},{"level":4,"x":42.2,"top":-7.1,"bot":-20},{"level":4,"x":45.4,"top":-7.6,"bot":-18.5},{"level":4,"x":48.5,"top":-8.4,"bot":-17.3},{"level":4,"x":51.6,"top":-9.3,"bot":-15.8},{"level":4,"x":53.9,"top":-10.9,"bot":-14.7},{"level":4,"x":55.2,"top":-12.8,"bot":-13.9},
{"level":5,"x":25.7,"top":-10.1,"bot":-12.8},{"level":5,"x":27.8,"top":-9,"bot":-14.7},{"level":5,"x":30.3,"top":-8.2,"bot":-17},{"level":5,"x":32.9,"top":-7.1,"bot":-19.6},{"level":5,"x":35.5,"top":-6.3,"bot":-22.3},{"level":5,"x":37.8,"top":-6.3,"bot":-21.9},{"level":5,"x":40.2,"top":-7.2,"bot":-20},{"level":5,"x":42.8,"top":-8,"bot":-18.1},{"level":5,"x":45.9,"top":-8.6,"bot":-16.8},{"level":5,"x":49,"top":-9.7,"bot":-15.4},{"level":5,"x":51.6,"top":-11.2,"bot":-14.3},{"level":5,"x":52.9,"top":-12.8,"bot":-13.9},
{"level":6,"x":29.3,"top":-10.9,"bot":-13.5},{"level":6,"x":31.4,"top":-9,"bot":-16.6},{"level":6,"x":33.4,"top":-7.8,"bot":-19.2},{"level":6,"x":35.5,"top":-7.1,"bot":-21.1},{"level":6,"x":37.8,"top":-7.1,"bot":-21.5},{"level":6,"x":40.2,"top":-7.8,"bot":-18.9},{"level":6,"x":43.3,"top":-8.8,"bot":-16.2},{"level":6,"x":46.4,"top":-10.1,"bot":-15},{"level":6,"x":49,"top":-11.6,"bot":-14.3},{"level":6,"x":50.3,"top":-12.8,"bot":-13.9},
{"level":7,"x":32.2,"top":-9.7,"bot":-15},{"level":7,"x":33.4,"top":-8.6,"bot":-17.7},{"level":7,"x":35,"top":-7.6,"bot":-20},{"level":7,"x":37.1,"top":-7.3,"bot":-20.8},{"level":7,"x":39.1,"top":-7.8,"bot":-20},{"level":7,"x":41.2,"top":-8.8,"bot":-17.3},{"level":7,"x":43.8,"top":-9.9,"bot":-15.8},{"level":7,"x":45.9,"top":-10.9,"bot":-15},{"level":7,"x":47.4,"top":-13.2,"bot":-14.7},
{"level":8,"x":32.4,"top":-11.2,"bot":-14.7},{"level":8,"x":33.4,"top":-9.5,"bot":-17},{"level":8,"x":35,"top":-8.4,"bot":-19.2},{"level":8,"x":37.6,"top":-7.8,"bot":-20.2},{"level":8,"x":39.1,"top":-8.2,"bot":-19.6},{"level":8,"x":41.2,"top":-9.3,"bot":-17.3},{"level":8,"x":43.3,"top":-10.5,"bot":-16.2},{"level":8,"x":45.6,"top":-11.6,"bot":-14.3},
{"level":9,"x":32.7,"top":-12,"bot":-14.3},{"level":9,"x":34,"top":-9.7,"bot":-17},{"level":9,"x":35.5,"top":-8.6,"bot":-18.5},{"level":9,"x":37.6,"top":-8.4,"bot":-19.2},{"level":9,"x":39.7,"top":-9.3,"bot":-18.5},{"level":9,"x":41.7,"top":-10.5,"bot":-16.6},{"level":9,"x":43.5,"top":-12.2,"bot":-14.7},
{"level":10,"x":33.7,"top":-11.6,"bot":-15.8},{"level":10,"x":34.7,"top":-10.1,"bot":-17},{"level":10,"x":36.3,"top":-9.3,"bot":-17.9},{"level":10,"x":38.1,"top":-9.2,"bot":-18.5},{"level":10,"x":39.9,"top":-10.5,"bot":-17.7},{"level":10,"x":41.7,"top":-12,"bot":-15.4},
{"level":11,"x":34.2,"top":-11.6,"bot":-15.8},{"level":11,"x":35,"top":-10.5,"bot":-17.3},{"level":11,"x":36.6,"top":-9.7,"bot":-17.7},{"level":11,"x":38.6,"top":-9.9,"bot":-18.1},{"level":11,"x":39.9,"top":-11.6,"bot":-16.6},{"level":11,"x":40.7,"top":-13.2,"bot":-15},
{"level":12,"x":34.7,"top":-12.8,"bot":-16.2},{"level":12,"x":35.8,"top":-10.9,"bot":-17},{"level":12,"x":37.3,"top":-11.2,"bot":-16.6},{"level":12,"x":38.6,"top":-11.2,"bot":-16.2},{"level":12,"x":39.4,"top":-13.2,"bot":-15},
{"level":13,"x":35.3,"top":-12,"bot":-16.2},{"level":13,"x":36.3,"top":-10.9,"bot":-15.8},{"level":13,"x":37.8,"top":-11.6,"bot":-14.7},{"level":13,"x":38.9,"top":-11.2,"bot":-14.7},
{"level":14,"x":35.5,"top":-12,"bot":-15},{"level":14,"x":36.3,"top":-11.2,"bot":-14.7},{"level":14,"x":37.3,"top":-12.9,"bot":-14},{"level":14,"x":38.4,"top":-11.6,"bot":-14.3},
{"level":15,"x":35.9,"top":-11.5,"bot":-12.6},{"level":15,"x":36.4,"top":-11.4,"bot":-12.8},{"level":15,"x":36.9,"top":-12.2,"bot":-12.6}
]},
"hconcat":[
{"width":1513,"height":1514,"view":{"fill":"#fcfcfc","stroke":"#000","strokeWidth":3},"resolve":{"axis":{"x":"independent","y":"independent"}},"layer":[
{"data":{"name":"a"},"mark":{"type":"area","orient":"vertical","interpolate":"monotone"},"encoding":{"x":{"field":"x","type":"quantitative","scale":{"domain":[10,70],"nice":false,"zero":false},"axis":null},"y":{"field":"top","type":"quantitative","scale":{"domain":[-40,10],"nice":false,"zero":false},"axis":null},"y2":{"field":"bot"},"color":{"field":"level","type":"ordinal","legend":null,"scale":{"domain":[0,1,2,3,4,5,6,7,8,9,10,11,12,13,14,15,16],"range":["#fcfcfc","#bcbcbc","#808080","#8a4a9a","#7a20a8","#4a10b8","#1414e0","#0a60d0","#08b4c0","#08b810","#80dc08","#fcfc00","#fc8c00","#fc2c00","#c80000","#780000","#101010"]}}}},
{"data":{"name":"cellsA"},"mark":{"type":"square","size":64,"opacity":1},"encoding":{"x":{"field":"x","type":"quantitative","axis":null},"y":{"field":"y","type":"quantitative","axis":null},"color":{"field":"level","type":"ordinal","legend":null}}},
{"data":{"values":[{"x":10,"y":-8.77},{"x":70,"y":-13.08}]},"mark":{"type":"line","color":"#000","strokeWidth":5},"encoding":{"x":{"field":"x","type":"quantitative","axis":null},"y":{"field":"y","type":"quantitative","axis":null}}},
{"data":{"values":[{"x":38.75,"y":-46.3,"t":"("},{"x":41.25,"y":-46.3,"t":")"}]},"mark":{"type":"text","font":"Liberation Serif","fontSize":68,"color":"#111"},"encoding":{"x":{"field":"x","type":"quantitative","axis":null},"y":{"field":"y","type":"quantitative","axis":null},"text":{"field":"t"}}},
{"data":{"values":[{"x":40,"y":-46.3,"t":"a"}]},"mark":{"type":"text","font":"Liberation Serif","fontSize":68,"fontWeight":"bold","color":"#111"},"encoding":{"x":{"field":"x","type":"quantitative","axis":null},"y":{"field":"y","type":"quantitative","axis":null},"text":{"field":"t"}}},
{"data":{"values":[{"x":40,"y":-15}]},"mark":{"type":"point","opacity":0},"encoding":{"x":{"field":"x","type":"quantitative","axis":{"orient":"bottom","values":[10,20,30,40,50,60,70],"format":".1f","grid":true,"gridColor":"#000","gridDash":[2.5,10],"gridWidth":2,"tickSize":-33,"zindex":1,"labelAlign":"left","labelOffset":-3,"labelPadding":47,"title":"Local Incidence Angle (Degrees)","titleBaseline":"middle","titleY":72}},"y":{"field":"y","type":"quantitative","axis":{"orient":"left","values":[-40,-35,-30,-25,-20,-15,-10,-5,0,5,10],"labelExpr":"(datum.value<0?'-':'')+format(abs(datum.value),'.1f')","grid":true,"gridColor":"#000","gridDash":[2.5,10],"gridWidth":2,"tickSize":-33,"zindex":1,"labelPadding":52,"title":"σ⁰ (dB)","titleFontSize":34,"titleBaseline":"middle","titleX":-203,"titleY":758}}}},
{"data":{"values":[{"x":40,"y":-15}]},"mark":{"type":"point","opacity":0},"encoding":{"x":{"field":"x","type":"quantitative","axis":{"orient":"bottom","values":[12,14,16,18,22,24,26,28,32,34,36,38,42,44,46,48,52,54,56,58,62,64,66,68],"labels":false,"title":null,"tickSize":-17,"zindex":1}},"y":{"field":"y","type":"quantitative","axis":{"orient":"left","values":[-38.75,-37.5,-36.25,-33.75,-32.5,-31.25,-28.75,-27.5,-26.25,-23.75,-22.5,-21.25,-18.75,-17.5,-16.25,-13.75,-12.5,-11.25,-8.75,-7.5,-6.25,-3.75,-2.5,-1.25,1.25,2.5,3.75,6.25,7.5,8.75],"labels":false,"title":null,"tickSize":-17,"zindex":1}}}},
{"data":{"values":[{"x":40,"y":-15}]},"mark":{"type":"point","opacity":0},"encoding":{"x":{"field":"x","type":"quantitative","axis":{"orient":"top","values":[10,20,30,40,50,60,70],"labels":false,"title":null,"tickSize":-33,"zindex":1}},"y":{"field":"y","type":"quantitative","axis":{"orient":"right","values":[-40,-35,-30,-25,-20,-15,-10,-5,0,5,10],"labels":false,"title":null,"tickSize":-33,"zindex":1}}}},
{"data":{"values":[{"x":40,"y":-15}]},"mark":{"type":"point","opacity":0},"encoding":{"x":{"field":"x","type":"quantitative","axis":{"orient":"top","values":[12,14,16,18,22,24,26,28,32,34,36,38,42,44,46,48,52,54,56,58,62,64,66,68],"labels":false,"title":null,"tickSize":-17,"zindex":1}},"y":{"field":"y","type":"quantitative","axis":{"orient":"right","values":[-38.75,-37.5,-36.25,-33.75,-32.5,-31.25,-28.75,-27.5,-26.25,-23.75,-22.5,-21.25,-18.75,-17.5,-16.25,-13.75,-12.5,-11.25,-8.75,-7.5,-6.25,-3.75,-2.5,-1.25,1.25,2.5,3.75,6.25,7.5,8.75],"labels":false,"title":null,"tickSize":-17,"zindex":1}}}}
]},
{"width":27,"height":1514,"resolve":{"axis":{"y":"independent"}},"layer":[
{"data":{"name":"binsA"},"mark":{"type":"rect"},"encoding":{"x":{"datum":0,"type":"quantitative","scale":{"domain":[0,1],"nice":false,"zero":false},"axis":null},"x2":{"datum":1},"y":{"field":"lo","type":"quantitative","scale":{"domain":[0,0.3713],"nice":false,"zero":false},"axis":{"orient":"right","values":[0,0.074,0.148,0.222,0.296,0.37],"format":".2f","domain":true,"domainColor":"#999","domainWidth":4,"tickSize":13,"labelPadding":41,"title":"Normalized occurence number","titleFont":"DejaVu Sans","titleFontSize":50,"titleAngle":-90,"titleBaseline":"middle","titleX":158,"titleY":756,"zindex":1}},"y2":{"field":"hi"},"color":{"field":"level","type":"ordinal","legend":null,"scale":{"domain":[0,1,2,3,4,5,6,7,8,9,10,11,12,13,14,15,16],"range":["#fcfcfc","#bcbcbc","#808080","#8a4a9a","#7a20a8","#4a10b8","#1414e0","#0a60d0","#08b4c0","#08b810","#80dc08","#fcfc00","#fc8c00","#fc2c00","#c80000","#780000","#101010"]}}}},
{"data":{"values":[{"y":0.1}]},"mark":{"type":"point","opacity":0},"encoding":{"x":{"datum":0.5,"type":"quantitative","axis":null},"y":{"field":"y","type":"quantitative","axis":{"orient":"right","values":[0.0148,0.0296,0.0444,0.0592,0.0888,0.1036,0.1184,0.1332,0.1628,0.1776,0.1924,0.2072,0.2368,0.2516,0.2664,0.2812,0.3108,0.3256,0.3404,0.3552],"labels":false,"title":null,"tickSize":8,"zindex":1}}}},
{"data":{"values":[{"y":0.1}]},"mark":{"type":"point","opacity":0},"encoding":{"x":{"datum":0.5,"type":"quantitative","axis":null},"y":{"field":"y","type":"quantitative","axis":{"orient":"left","values":[],"labels":false,"ticks":false,"title":null,"domain":true,"domainColor":"#000","domainWidth":4,"zindex":1}}}}
]},
{"width":538,"height":1514,"data":{"values":[{"x":0}]},"mark":{"type":"point","opacity":0},"encoding":{"x":{"field":"x","type":"quantitative","axis":null}}},
{"width":1513,"height":1514,"view":{"fill":"#fcfcfc","stroke":"#000","strokeWidth":3},"resolve":{"axis":{"x":"independent","y":"independent"}},"layer":[
{"data":{"name":"b"},"mark":{"type":"area","orient":"vertical","interpolate":"monotone"},"encoding":{"x":{"field":"x","type":"quantitative","scale":{"domain":[10,70],"nice":false,"zero":false},"axis":null},"y":{"field":"top","type":"quantitative","scale":{"domain":[-40,10],"nice":false,"zero":false},"axis":null},"y2":{"field":"bot"},"color":{"field":"level","type":"ordinal","legend":null,"scale":{"domain":[0,1,2,3,4,5,6,7,8,9,10,11,12,13,14,15,16],"range":["#fcfcfc","#bcbcbc","#808080","#8a4a9a","#7a20a8","#4a10b8","#1414e0","#0a60d0","#08b4c0","#08b810","#80dc08","#fcfc00","#fc8c00","#fc2c00","#c80000","#780000","#101010"]}}}},
{"data":{"name":"cellsB"},"mark":{"type":"square","size":64,"opacity":1},"encoding":{"x":{"field":"x","type":"quantitative","axis":null},"y":{"field":"y","type":"quantitative","axis":null},"color":{"field":"level","type":"ordinal","legend":null}}},
{"data":{"values":[{"x":10,"y":-12.66},{"x":70,"y":-14.03}]},"mark":{"type":"line","color":"#000","strokeWidth":5},"encoding":{"x":{"field":"x","type":"quantitative","axis":null},"y":{"field":"y","type":"quantitative","axis":null}}},
{"data":{"values":[{"x":38.75,"y":-46.3,"t":"("},{"x":41.25,"y":-46.3,"t":")"}]},"mark":{"type":"text","font":"Liberation Serif","fontSize":68,"color":"#111"},"encoding":{"x":{"field":"x","type":"quantitative","axis":null},"y":{"field":"y","type":"quantitative","axis":null},"text":{"field":"t"}}},
{"data":{"values":[{"x":40,"y":-46.3,"t":"b"}]},"mark":{"type":"text","font":"Liberation Serif","fontSize":68,"fontWeight":"bold","color":"#111"},"encoding":{"x":{"field":"x","type":"quantitative","axis":null},"y":{"field":"y","type":"quantitative","axis":null},"text":{"field":"t"}}},
{"data":{"values":[{"x":40,"y":-15}]},"mark":{"type":"point","opacity":0},"encoding":{"x":{"field":"x","type":"quantitative","axis":{"orient":"bottom","values":[10,20,30,40,50,60,70],"format":".1f","grid":true,"gridColor":"#000","gridDash":[2.5,10],"gridWidth":2,"tickSize":-33,"zindex":1,"labelAlign":"left","labelOffset":-3,"labelPadding":47,"title":"Local Incidence Angle (Degrees)","titleBaseline":"middle","titleY":72}},"y":{"field":"y","type":"quantitative","axis":{"orient":"left","values":[-40,-35,-30,-25,-20,-15,-10,-5,0,5,10],"labelExpr":"(datum.value<0?'-':'')+format(abs(datum.value),'.1f')","grid":true,"gridColor":"#000","gridDash":[2.5,10],"gridWidth":2,"tickSize":-33,"zindex":1,"labelPadding":52,"title":"σ⁰ (dB)","titleFontSize":34,"titleBaseline":"middle","titleX":-205,"titleY":758}}}},
{"data":{"values":[{"x":40,"y":-15}]},"mark":{"type":"point","opacity":0},"encoding":{"x":{"field":"x","type":"quantitative","axis":{"orient":"bottom","values":[12,14,16,18,22,24,26,28,32,34,36,38,42,44,46,48,52,54,56,58,62,64,66,68],"labels":false,"title":null,"tickSize":-17,"zindex":1}},"y":{"field":"y","type":"quantitative","axis":{"orient":"left","values":[-38.75,-37.5,-36.25,-33.75,-32.5,-31.25,-28.75,-27.5,-26.25,-23.75,-22.5,-21.25,-18.75,-17.5,-16.25,-13.75,-12.5,-11.25,-8.75,-7.5,-6.25,-3.75,-2.5,-1.25,1.25,2.5,3.75,6.25,7.5,8.75],"labels":false,"title":null,"tickSize":-17,"zindex":1}}}},
{"data":{"values":[{"x":40,"y":-15}]},"mark":{"type":"point","opacity":0},"encoding":{"x":{"field":"x","type":"quantitative","axis":{"orient":"top","values":[10,20,30,40,50,60,70],"labels":false,"title":null,"tickSize":-33,"zindex":1}},"y":{"field":"y","type":"quantitative","axis":{"orient":"right","values":[-40,-35,-30,-25,-20,-15,-10,-5,0,5,10],"labels":false,"title":null,"tickSize":-33,"zindex":1}}}},
{"data":{"values":[{"x":40,"y":-15}]},"mark":{"type":"point","opacity":0},"encoding":{"x":{"field":"x","type":"quantitative","axis":{"orient":"top","values":[12,14,16,18,22,24,26,28,32,34,36,38,42,44,46,48,52,54,56,58,62,64,66,68],"labels":false,"title":null,"tickSize":-17,"zindex":1}},"y":{"field":"y","type":"quantitative","axis":{"orient":"right","values":[-38.75,-37.5,-36.25,-33.75,-32.5,-31.25,-28.75,-27.5,-26.25,-23.75,-22.5,-21.25,-18.75,-17.5,-16.25,-13.75,-12.5,-11.25,-8.75,-7.5,-6.25,-3.75,-2.5,-1.25,1.25,2.5,3.75,6.25,7.5,8.75],"labels":false,"title":null,"tickSize":-17,"zindex":1}}}}
]},
{"width":27,"height":1514,"resolve":{"axis":{"y":"independent"}},"layer":[
{"data":{"name":"binsB"},"mark":{"type":"rect"},"encoding":{"x":{"datum":0,"type":"quantitative","scale":{"domain":[0,1],"nice":false,"zero":false},"axis":null},"x2":{"datum":1},"y":{"field":"lo","type":"quantitative","scale":{"domain":[0,0.3673],"nice":false,"zero":false},"axis":{"orient":"right","values":[0,0.0732,0.1464,0.2196,0.2928,0.366],"format":".2f","domain":true,"domainColor":"#999","domainWidth":4,"tickSize":13,"labelPadding":41,"title":"Normalized occurence number","titleFont":"DejaVu Sans","titleFontSize":50,"titleAngle":-90,"titleBaseline":"middle","titleX":158,"titleY":756,"zindex":1}},"y2":{"field":"hi"},"color":{"field":"level","type":"ordinal","legend":null,"scale":{"domain":[0,1,2,3,4,5,6,7,8,9,10,11,12,13,14,15,16],"range":["#fcfcfc","#bcbcbc","#808080","#8a4a9a","#7a20a8","#4a10b8","#1414e0","#0a60d0","#08b4c0","#08b810","#80dc08","#fcfc00","#fc8c00","#fc2c00","#c80000","#780000","#101010"]}}}},
{"data":{"values":[{"y":0.1}]},"mark":{"type":"point","opacity":0},"encoding":{"x":{"datum":0.5,"type":"quantitative","axis":null},"y":{"field":"y","type":"quantitative","axis":{"orient":"right","values":[0.01464,0.02928,0.04392,0.05856,0.08784,0.10248,0.11712,0.13176,0.16104,0.17568,0.19032,0.20496,0.23424,0.24888,0.26352,0.27816,0.30744,0.32208,0.33672,0.35136],"labels":false,"title":null,"tickSize":8,"zindex":1}}}},
{"data":{"values":[{"y":0.1}]},"mark":{"type":"point","opacity":0},"encoding":{"x":{"datum":0.5,"type":"quantitative","axis":null},"y":{"field":"y","type":"quantitative","axis":{"orient":"left","values":[],"labels":false,"ticks":false,"title":null,"domain":true,"domainColor":"#000","domainWidth":4,"zindex":1}}}}
]}
]}
